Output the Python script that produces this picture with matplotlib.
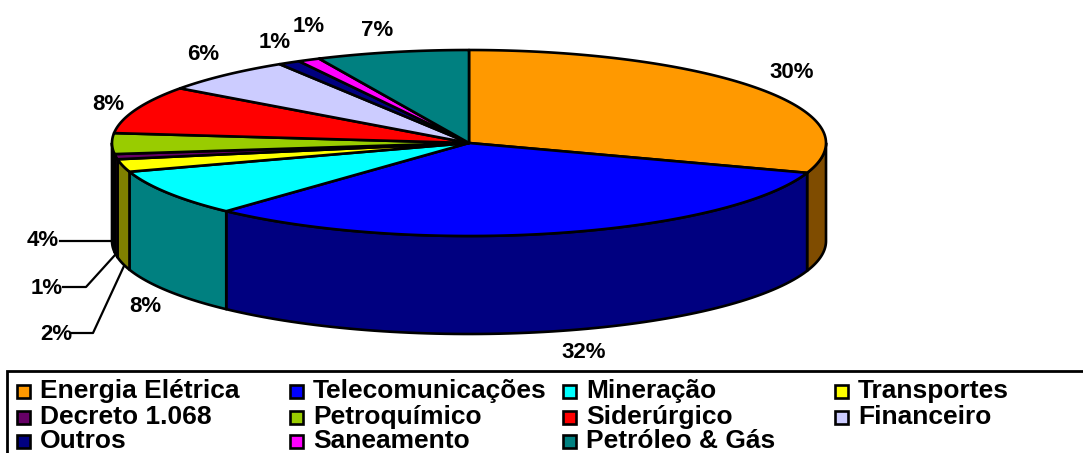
import numpy as np
import matplotlib
matplotlib.use('Agg')
import matplotlib.pyplot as plt
from matplotlib.patches import Polygon, Rectangle

plt.rcParams['font.family'] = ['Liberation Sans', 'DejaVu Sans']

# dados
setores = ['Energia Elétrica', 'Telecomunicações', 'Mineração', 'Transportes',
           'Decreto 1.068', 'Petroquímico', 'Siderúrgico', 'Financeiro',
           'Outros', 'Saneamento', 'Petróleo & Gás']
valores = [30.2, 31.7, 8.1, 2.2, 0.9, 3.6, 8.3, 6.1, 1.0, 1.0, 6.9]
rotulos = ['30%', '32%', '8%', '2%', '1%', '4%', '8%', '6%', '1%', '1%', '7%']
cores = ['#FF9900', '#0000FF', '#00FFFF', '#FFFF00', '#660066', '#99CC00',
         '#FF0000', '#CCCCFF', '#000080', '#FF00FF', '#008080']
cores_lado = ['#7F4C00', '#000080', '#008080', '#808000', '#330033', '#4C6600',
              '#7F0000', '#666680', '#000040', '#800080', '#004040']

# posicao dos rotulos em pixels
pos_rotulos = [(792, 73), (584, 352), (145, 306), (56, 334), (47, 288),
               (43, 241), (108, 104), (203, 54), (275, 43), (309, 26), (377, 30)]

# geometria da pizza em pixels
cx, cy = 469, 143
rx, ry = 357, 93
altura = 98


def ponto(t):
    return cx + rx * np.sin(t), cy - ry * np.cos(t)


fig = plt.figure(figsize=(10.83, 4.53), dpi=100)
ax = fig.add_axes([0, 0, 1, 1])
ax.set_xlim(0, 1083)
ax.set_ylim(453, 0)
ax.axis('off')

limites = np.cumsum([0] + valores) / sum(valores) * 2 * np.pi

# lateral da pizza
for i in range(len(valores)):
    t0 = max(limites[i], np.pi / 2)
    t1 = min(limites[i + 1], 3 * np.pi / 2)
    if t1 <= t0:
        continue
    t = np.linspace(t0, t1, 80)
    x, y = ponto(t)
    xy = np.r_[np.c_[x, y], np.c_[x[::-1], y[::-1] + altura]]
    ax.add_patch(Polygon(xy, closed=True, fc=cores_lado[i], ec='black', lw=1.9, joinstyle='round'))

# topo da pizza
for i in range(len(valores)):
    t = np.linspace(limites[i], limites[i + 1], 120)
    x, y = ponto(t)
    xy = np.r_[[[cx, cy]], np.c_[x, y]]
    ax.add_patch(Polygon(xy, closed=True, fc=cores[i], ec='black', lw=1.9, joinstyle='round'))

# rotulos
for r, (px, py) in zip(rotulos, pos_rotulos):
    ax.text(px, py, r, fontsize=16, fontweight='bold', ha='center', va='center', color='black')

# linhas de chamada
ax.plot([60, 113], [241, 241], color='black', lw=1.6)
ax.plot([63, 86, 115], [287, 287, 255], color='black', lw=1.6)
ax.plot([72, 93, 124], [333, 333, 266], color='black', lw=1.6)

# legenda
ax.add_patch(Rectangle((7, 371), 1100, 100, fc='white', ec='black', lw=2))
col_x = [17, 290, 563, 835]
lin_y = [391, 417, 441]
for i, nome in enumerate(setores):
    lin, col = divmod(i, 4)
    x0, y0 = col_x[col], lin_y[lin]
    ax.add_patch(Rectangle((x0, y0 - 6), 13, 13, fc=cores[i], ec='black', lw=1.9))
    ax.text(x0 + 23, y0, nome, fontsize=19, fontweight='bold', ha='left', va='center', color='black')

fig.savefig('out.png', dpi=100)
